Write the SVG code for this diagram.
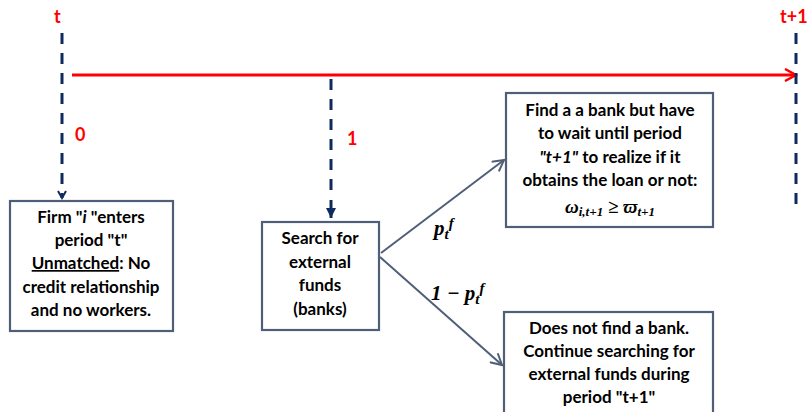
<svg xmlns="http://www.w3.org/2000/svg" width="810" height="412" viewBox="0 0 810 412">
<style>
.box{fill:#fff;stroke:#4f5f78;stroke-width:2.2}
.t{font-family:"Lato","Liberation Sans",sans-serif;font-weight:bold;font-size:17px;fill:#000;text-anchor:middle}
.red{font-family:"Lato","Liberation Sans",sans-serif;font-weight:bold;font-size:18px;fill:#ff0000}
.m{font-family:"Liberation Serif","DejaVu Serif",serif;font-weight:bold;font-style:italic;fill:#000}
.dash{stroke:#0f2a5e;stroke-width:3;stroke-dasharray:11 9;fill:none}
.conn{stroke:#4f5f78;stroke-width:2;fill:none}
</style>
<defs>
<marker id="chev" markerWidth="10" markerHeight="10" refX="8" refY="5" orient="auto" markerUnits="userSpaceOnUse">
<path d="M1,1 L8,5 L1,9" fill="none" stroke="#0f2a5e" stroke-width="2"/>
</marker>
<marker id="tri" markerWidth="12" markerHeight="12" refX="10" refY="6" orient="auto" markerUnits="userSpaceOnUse">
<path d="M0,1 L10,6 L0,11 Z" fill="#0f2a5e"/>
</marker>
<marker id="redarr" markerWidth="14" markerHeight="14" refX="12" refY="7" orient="auto" markerUnits="userSpaceOnUse">
<path d="M1,1 L12,7 L1,13" fill="none" stroke="#ff0000" stroke-width="2.5"/>
</marker>
<marker id="grey" markerWidth="14" markerHeight="14" refX="12" refY="7" orient="auto" markerUnits="userSpaceOnUse">
<path d="M1,1 L12,7 L1,13" fill="none" stroke="#4f5f78" stroke-width="2"/>
</marker>
</defs>

<g id="labels">
<text class="red" x="54" y="23">t</text>
<text class="red" x="780" y="23">t+1</text>
<text class="red" x="75" y="141">0</text>
<text class="red" x="347" y="145">1</text>
</g>

<g id="connectors">
<line class="dash" x1="62" y1="33" x2="62" y2="198" marker-end="url(#chev)"/>
<line x1="72" y1="75" x2="796" y2="75" stroke="#ff0000" stroke-width="3" marker-end="url(#redarr)"/>
<line class="dash" x1="796" y1="33" x2="796" y2="206"/>
<line class="dash" x1="331" y1="79" x2="331" y2="195"/>
<line x1="331" y1="200" x2="331" y2="218" stroke="#0f2a5e" stroke-width="3" marker-end="url(#tri)"/>
<line class="conn" x1="381" y1="253" x2="504" y2="160" marker-end="url(#grey)"/>
<line class="conn" x1="380" y1="257" x2="502" y2="365" marker-end="url(#grey)"/>
<text class="m" x="434" y="235" font-size="21">p<tspan font-size="15" dy="4">t</tspan><tspan font-size="15" dy="-11">f</tspan></text>
<text class="m" x="431" y="300" font-size="21">1 − p<tspan font-size="15" dy="4">t</tspan><tspan font-size="15" dy="-11">f</tspan></text>
</g>

<g id="firm">
<rect class="box" x="10" y="201" width="163" height="130"/>
<text class="t" x="91" y="223">Firm "<tspan font-style="italic">i</tspan> "enters</text>
<text class="t" x="91" y="246">period "t"</text>
<text class="t" x="91" y="269"><tspan text-decoration="underline">Unmatched</tspan>: No</text>
<text class="t" x="91" y="293">credit relationship</text>
<text class="t" x="91" y="316">and no workers.</text>
</g>

<g id="search">
<rect class="box" x="262" y="222" width="117" height="108"/>
<text class="t" x="320" y="244">Search for</text>
<text class="t" x="320" y="268">external</text>
<text class="t" x="320" y="291">funds</text>
<text class="t" x="320" y="315">(banks)</text>
</g>

<g id="find">
<rect class="box" x="506" y="93" width="207" height="134"/>
<text class="t" x="610" y="116">Find a a bank but  have</text>
<text class="t" x="610" y="139">to wait until period</text>
<text class="t" x="610" y="163"><tspan font-style="italic">"t+1"</tspan> to realize  if it</text>
<text class="t" x="610" y="186">obtains the loan or not:</text>
<text class="m" x="610" y="213" font-size="19" text-anchor="middle">ω<tspan font-size="13" dy="3">i,t+1</tspan><tspan dy="-3"> ≥ ϖ</tspan><tspan font-size="13" dy="3">t+1</tspan></text>
</g>

<g id="notfind">
<rect class="box" x="504" y="312" width="209" height="110"/>
<text class="t" x="609" y="334">Does not find a bank.</text>
<text class="t" x="609" y="357">Continue searching for</text>
<text class="t" x="609" y="380">external funds during</text>
<text class="t" x="609" y="403">period "t+1"</text>
</g>
</svg>
